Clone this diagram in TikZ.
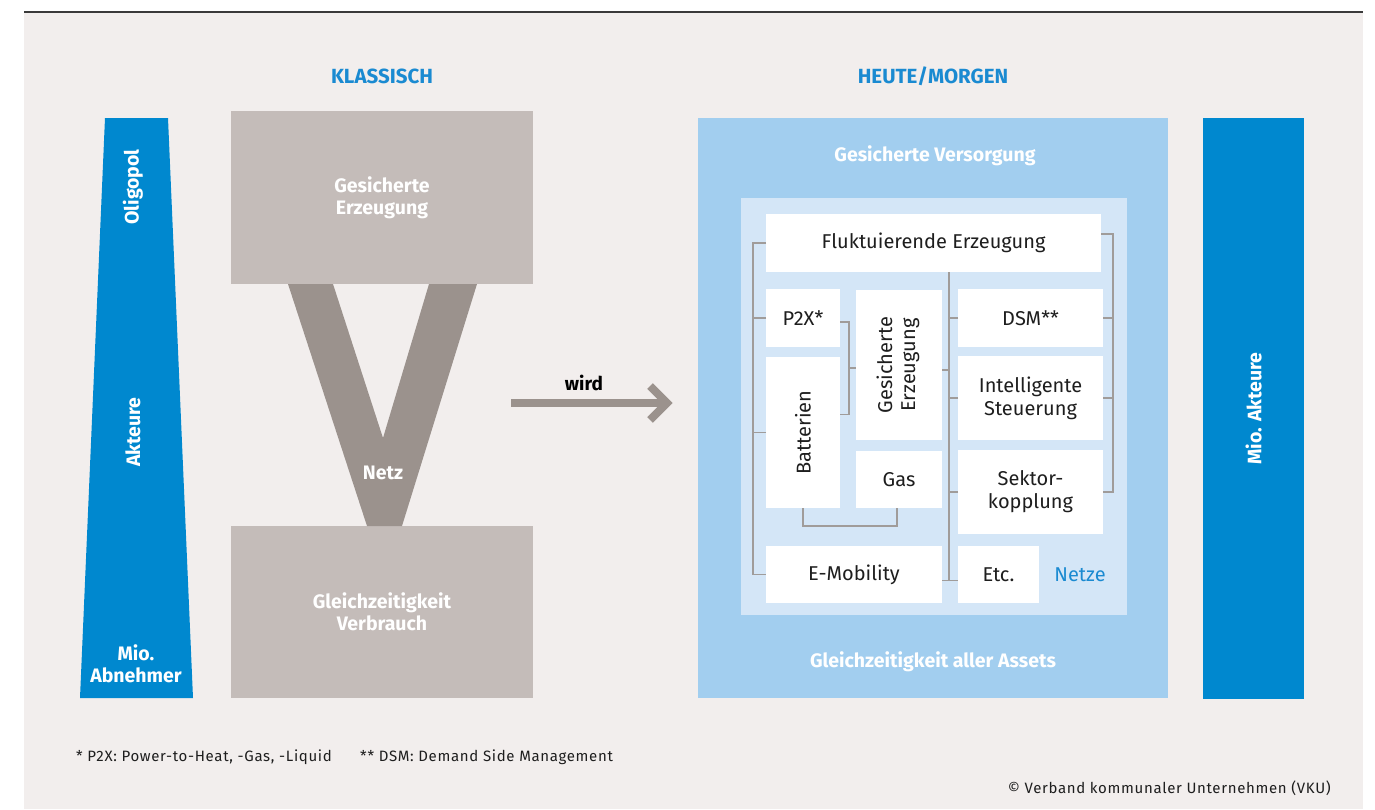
\documentclass[tikz,border=0pt]{standalone}
\usepackage{fontspec}
\setmainfont{Fira Sans}
\newcommand\fsz[2]{\fontsize{#1}{#2}\selectfont}
\definecolor{bg}{HTML}{F2EEED}
\definecolor{topline}{HTML}{3A3A3A}
\definecolor{vkublue}{HTML}{0088CF}
\definecolor{headblue}{HTML}{1A8AD1}
\definecolor{greybox}{HTML}{C4BCB9}
\definecolor{vgrey}{HTML}{9B928D}
\definecolor{outerblue}{HTML}{A2CEEF}
\definecolor{innerblue}{HTML}{D4E6F7}
\definecolor{conncol}{HTML}{A09C9A}
\definecolor{txt}{HTML}{1E1E1E}
\tikzset{
  wbox/.style={fill=white, inner sep=0pt, outer sep=0pt, anchor=north west,
    align=center, text=txt, font=\fsz{20}{23}},
  gbox/.style={fill=greybox, inner sep=0pt, outer sep=0pt, anchor=north west,
    align=center, text=white, font=\bfseries\fsz{19.5}{22}},
  whitebold/.style={text=white, font=\bfseries\fsz{19.5}{22}, align=center, inner sep=0pt},
  heading/.style={text=headblue, font=\bfseries\fsz{20.5}{23}, inner sep=0pt},
  conn/.style={draw=conncol, line width=1.5pt},
  footer/.style={text=txt, font=\fsz{15}{18}\addfontfeatures{LetterSpace=4.5}, inner sep=0pt},
}
\begin{document}
\begin{tikzpicture}[x=1pt, y=-1pt]
\useasboundingbox (0,0) rectangle (1375,809);
% page background and rule
\fill[bg] (24,13) rectangle (1363,809);
\draw[topline, line width=2pt] (24,12) -- (1363,12);

% headings
\node[heading] (hk) at (382,76) {KLASSISCH};
\node[heading] (hh) at (933,76) {HEUTE/MORGEN};

% left: market actors wedge
\fill[vkublue] (105,118) -- (168,118) -- (193,698) -- (80,698) -- cycle;
\node[whitebold, rotate=90] (olig) at (133,187) {Oligopol};
\node[whitebold, rotate=90] (akt) at (133,432) {Akteure};
\node[whitebold] (mio) at (136,664) {Mio.\\Abnehmer};

% classic: generation -- grid -- consumption
\node[gbox, minimum width=302pt, minimum height=173pt] (gen) at (231,111) {Gesicherte\\Erzeugung};
\node[gbox, minimum width=302pt, minimum height=172pt] (verb) at (231,526) {Gleichzeitigkeit\\Verbrauch};
\fill[vgrey] (288,284) -- (367,526) -- (402,526) -- (477,284) -- (429,284)
  -- (383,438) -- (333,284) -- cycle;
\node[whitebold] (netz) at (383,473) {Netz};

% transition arrow
\coordinate (as) at (511,403);
\coordinate (ae) at (667,403);
\draw[vgrey, line width=8pt] (as) -- (ae);
\draw[vgrey, line width=8pt, miter limit=10] (650,386) -- (ae) -- (650,420);
\node[text=black, font=\bfseries\fsz{19}{22}, inner sep=0pt] (wird) at (584,383) {wird};

% today / tomorrow
\node[fill=outerblue, inner sep=0pt, outer sep=0pt, anchor=north west,
  minimum width=470pt, minimum height=580pt] (heute) at (698,118) {};
\node[whitebold] (vers) at (935,156) {Gesicherte Versorgung};
\node[whitebold] (gleich) at (933,662) {Gleichzeitigkeit aller Assets};
\node[fill=innerblue, inner sep=0pt, outer sep=0pt, anchor=north west,
  minimum width=386pt, minimum height=417pt] (inner) at (741,198) {};

% asset boxes
\node[wbox, minimum width=335pt, minimum height=58pt] (fluk) at (766,214) {Fluktuierende Erzeugung};
\node[wbox, minimum width=74pt, minimum height=58pt] (p2x) at (766,289) {P2X*};
\node[wbox, minimum width=74pt, minimum height=151pt] (batt) at (766,357) {\rotatebox{90}{Batterien}};
\node[wbox, minimum width=86pt, minimum height=150pt] (ges) at (856,290)
  {\rotatebox{90}{\begin{tabular}{@{}c@{}}Gesicherte\\Erzeugung\end{tabular}}};
\node[wbox, minimum width=86pt, minimum height=57pt] (gas) at (856,451) {Gas};
\node[wbox, minimum width=176pt, minimum height=57pt] (emob) at (766,546) {E-Mobility};
\node[wbox, minimum width=145pt, minimum height=58pt] (dsm) at (958,289) {DSM**};
\node[wbox, minimum width=145pt, minimum height=84pt] (intel) at (958,356) {Intelligente\\Steuerung};
\node[wbox, minimum width=145pt, minimum height=84pt] (sektor) at (958,450) {Sektor-\\kopplung};
\node[wbox, minimum width=81pt, minimum height=57pt] (etc) at (958,546) {Etc.};
\node[text=headblue, font=\fsz{20}{23}, inner sep=0pt] (netze) at (1080,575) {Netze};

% grid connections
\coordinate (lx) at (753,0);
\coordinate (mx) at (849,0);
\coordinate (cb) at (949,581);
\coordinate (rx) at (1113,0);
\draw[conn] (fluk.west) -- (fluk.west -| lx) |- (emob.west);
\draw[conn] (p2x.west) -- (p2x.west -| lx);
\draw[conn] (batt.west) -- (batt.west -| lx);
\draw[conn] ([yshift=-4pt]p2x.east) -- ([yshift=-4pt]p2x.east -| mx)
  -- ([yshift=18pt]batt.east -| mx) -- ([yshift=18pt]batt.east);
\draw[conn] ([yshift=-3pt]ges.west -| mx) -- ([yshift=-3pt]ges.west);
\draw[conn] (batt.south) -- ++(0,18) -| ([xshift=-2pt]gas.south);
\draw[conn] (fluk.south -| cb) -- (cb);
\draw[conn] (dsm.west) -- (dsm.west -| cb);
\draw[conn] ([yshift=-5pt]ges.east) -- ([yshift=-5pt]ges.east -| cb);
\draw[conn] (intel.west) -- (intel.west -| cb);
\draw[conn] (sektor.west) -- (sektor.west -| cb);
\draw[conn] ([yshift=-6pt]emob.east) -- ([yshift=-6pt]etc.west);
\draw[conn] ([yshift=9pt]fluk.east) -- ([yshift=9pt]fluk.east -| rx) |- (sektor.east);
\draw[conn] (dsm.east) -- (dsm.east -| rx);
\draw[conn] (intel.east) -- (intel.east -| rx);

% right: many actors
\node[fill=vkublue, inner sep=0pt, outer sep=0pt, anchor=north west,
  minimum width=101pt, minimum height=581pt] (akteure) at (1203,118) {};
\node[whitebold, rotate=90] (mioakt) at (akteure.center) {Mio. Akteure};

% footnotes
\node[footer, anchor=west] (fn1) at (76,757) {* P2X: Power-to-Heat, -Gas, -Liquid};
\node[footer, anchor=west] (fn2) at (360,757) {** DSM: Demand Side Management};
\node[footer, anchor=east] (copy) at (1331,788) {© Verband kommunaler Unternehmen (VKU)};
\end{tikzpicture}
\end{document}
